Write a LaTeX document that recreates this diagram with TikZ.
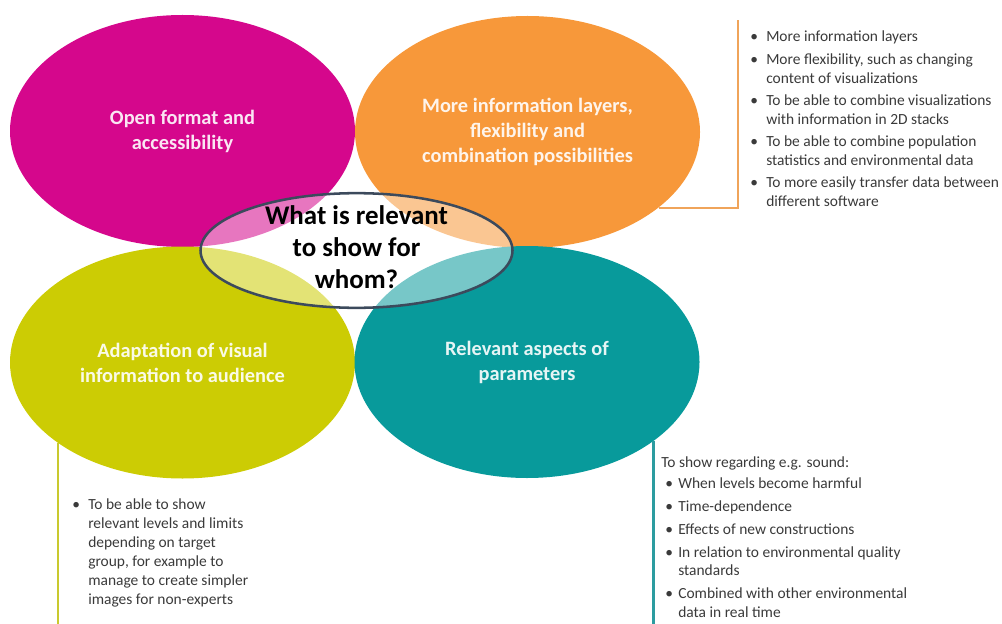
\documentclass[tikz,border=0pt]{standalone}
\usepackage{fontspec}
\setmainfont{Carlito}
\usetikzlibrary{shapes.geometric}
\definecolor{cpink}{HTML}{D5078C}
\definecolor{corange}{HTML}{F7983A}
\definecolor{cyellow}{HTML}{CCCC04}
\definecolor{cteal}{HTML}{089A9B}
\definecolor{cline}{HTML}{3C4A5C}
\definecolor{ctext}{HTML}{3A3A3A}
\definecolor{oline}{HTML}{F0A45A}
\definecolor{yline}{HTML}{C9C92E}
\definecolor{tline}{HTML}{2C9CA0}
\newcommand{\bul}{\makebox[12pt][l]{\textbullet}}
\newcommand{\bulb}{\hspace{3pt}\makebox[9.8pt][l]{\textbullet}}
\begin{document}
\begin{tikzpicture}[x=0.75pt,y=-0.75pt,
  petal/.style={ellipse, minimum width=258.75pt, minimum height=174pt, inner sep=0pt, draw=none,
    text=white, text opacity=0.9, align=center, font=\fontsize{15.3}{18.75}\selectfont\bfseries},
  hub/.style={ellipse, minimum width=234pt, minimum height=86pt, inner sep=0pt,
    draw=cline, line width=1.9pt, fill=white, fill opacity=0.45, draw opacity=1},
  hubtext/.style={align=center, text=black, font=\fontsize{20.2}{24}\selectfont\bfseries},
  bullets/.style={anchor=base west, inner sep=0pt, text=ctext, font=\fontsize{11.6}{13.9}\selectfont},
  link/.style={line width=1.7pt}
]
\useasboundingbox (0,0) rectangle (1002,624);

\node[petal, fill=cpink] (pink) at (182.5,131) {Open format and\\accessibility};
\node[petal, fill=corange] (orange) at (527.5,132) {More information layers,\\flexibility and\\combination possibilities};
\node[petal, fill=cyellow] (yellow) at (182.5,362.5) {Adaptation of visual\\information to audience};
\node[petal, fill=cteal] (teal) at (527,362) {Relevant aspects of\\parameters};

\node[hub] (hub) at (356.5,250.5) {};
\node[hubtext] (q) at (356.5,247) {What is relevant\\to show for\\whom?};

\coordinate (otop) at (738,20);
\coordinate (ybot) at (0,624);
\draw[link, oline] (orange.-30.3) -| (otop);
\draw[link, yline] (yellow.213.2) -- (yellow.213.2 |- ybot);
\draw[link, tline] (teal.-32.1) -- (teal.-32.1 |- ybot);

\node[bullets] (olist) at (750,42) {\begin{tabular}[t]{@{}l@{}l@{}}
\bul & More information layers\\[3pt]
\bul & More flexibility, such as changing\\
 & content of visualizations\\[3pt]
\bul & To be able to combine visualizations\\
 & with information in 2D stacks\\[3pt]
\bul & To be able to combine population\\
 & statistics and environmental data\\[3pt]
\bul & To more easily transfer data between\\
 & different software
\end{tabular}};

\node[bullets, font=\fontsize{11.6}{14.3}\selectfont] (ylist) at (72,509) {\begin{tabular}[t]{@{}l@{}l@{}}
\bul & To be able to show\\
 & relevant levels and limits\\
 & depending on target\\
 & group, for example to\\
 & manage to create simpler\\
 & images for non-experts
\end{tabular}};

\node[bullets] (tlist) at (661,467) {\begin{tabular}[t]{@{}l@{}l@{}}
\multicolumn{2}{@{}l@{}}{To show regarding e.g. sound:}\\[2pt]
\bulb & When levels become harmful\\[3.3pt]
\bulb & Time-dependence\\[3.3pt]
\bulb & Effects of new constructions\\[3.3pt]
\bulb & In relation to environmental quality\\
 & standards\\[3.3pt]
\bulb & Combined with other environmental\\
 & data in real time
\end{tabular}};
\end{tikzpicture}
\end{document}
